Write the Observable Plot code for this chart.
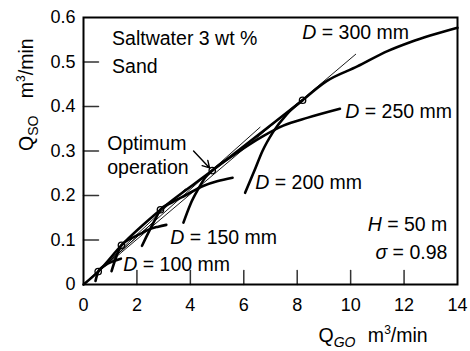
<!DOCTYPE html>
<html><head><meta charset="utf-8">
<script src="https://cdn.jsdelivr.net/npm/d3@7"></script>
<script src="https://cdn.jsdelivr.net/npm/@observablehq/plot@0.6"></script>
<style>
html,body{margin:0;padding:0;background:#fff;}
#chart{width:470px;height:351px;}
</style></head><body><div id="chart"></div>
<script>
// ---- axes ----
const xTickValues = [2, 4, 6, 8, 10, 12];
const xTickLabels = [0, 2, 4, 6, 8, 10, 12, 14];
const yTickValues = [0.1, 0.2, 0.3, 0.4, 0.5];
const yTickLabels = [0, 0.1, 0.2, 0.3, 0.4, 0.5, 0.6];

// ---- optimum operation line (through tangent points) ----
const optimumX = [0, 0.55, 1.42, 2.88, 4.82, 8.2];
const optimumY = [0, 0.029, 0.088, 0.168, 0.256, 0.414];

// ---- pipe-diameter curves ----
const d100X = [0.45, 0.55, 0.8, 1.1, 1.4];
const d100Y = [0.008, 0.029, 0.043, 0.052, 0.058];
const d150X = [1.05, 1.2, 1.42, 1.8, 2.2, 2.5, 2.8, 3.1];
const d150Y = [0.03, 0.058, 0.088, 0.104, 0.116, 0.125, 0.13, 0.134];
const d200X = [2.19, 2.35, 2.5, 2.7, 2.88, 3.3, 3.8, 4.5, 5.0, 5.58];
const d200Y = [0.087, 0.107, 0.125, 0.148, 0.168, 0.184, 0.2, 0.222, 0.232, 0.24];
const d250X = [3.74, 4.0, 4.3, 4.55, 4.82, 5.6, 6.74, 7.48, 8.4, 9.6];
const d250Y = [0.139, 0.18, 0.215, 0.24, 0.256, 0.29, 0.334, 0.357, 0.375, 0.395];
const d300X = [6.05, 6.4, 6.7, 7.1, 7.6, 8.2, 9.1, 10.25, 11.4, 12.25, 14];
const d300Y = [0.206, 0.256, 0.30, 0.343, 0.382, 0.414, 0.457, 0.49, 0.525, 0.545, 0.577];

// ---- tangent lines from origin (end points) ----
const tangentEndX = [1.3, 2.67, 3.82, 6.62, 10.2];
const tangentEndY = [0.069, 0.143, 0.215, 0.354, 0.518];

// ---- arrow ----
const arrowFromX = [4.12], arrowFromY = [0.300], arrowToX = [4.72], arrowToY = [0.262];

// ---- annotations ----
const noteText = ["Saltwater 3 wt %", "Sand", "Optimum", "operation",
  "D = 300 mm", "D = 250 mm", "D = 200 mm", "D = 150 mm", "D = 100 mm"];
const noteX = [1.07, 1.07, 0.89, 0.89, 8.19, 9.8, 6.43, 3.25, 1.49];
const noteY = [0.538, 0.475, 0.303, 0.249, 0.552, 0.374, 0.215, 0.092, 0.031];
const noteRText = ["H = 50 m", "σ = 0.98"];
const noteRX = [13.62, 13.62];
const noteRY = [0.121, 0.058];

const xLabel = "QGO m3/min";
const yLabel = "QSO m3/min";

// ---- build tables ----
const zipXY = (xs, ys) => xs.map((x, i) => ({x, y: ys[i]}));
const curves = [zipXY(d100X, d100Y), zipXY(d150X, d150Y), zipXY(d200X, d200Y), zipXY(d250X, d250Y), zipXY(d300X, d300Y)];
const optimum = zipXY(optimumX, optimumY);
const circles = optimum.slice(1);
const tangents = tangentEndX.map((x, i) => ({x1: 0, y1: 0, x2: x, y2: tangentEndY[i]}));
const arrows = arrowFromX.map((x, i) => ({x1: x, y1: arrowFromY[i], x2: arrowToX[i], y2: arrowToY[i]}));
const notes = noteText.map((t, i) => ({t, x: noteX[i], y: noteY[i]}));
const notesR = noteRText.map((t, i) => ({t, x: noteRX[i], y: noteRY[i]}));

const tickShape = {draw(context, l) { context.moveTo(0, 0); context.lineTo(0, -l); }};
const FS = 19.5;

const svg = Plot.plot({
  width: 470, height: 351,
  marginLeft: 83, marginRight: 13, marginTop: 17, marginBottom: 67,
  style: {fontFamily: "'Liberation Sans', Arial, sans-serif", fontSize: "18px", background: "#fff", color: "#000"},
  x: {domain: [0, 14]},
  y: {domain: [0, 0.6]},
  marks: [
    Plot.axisX({ticks: xTickLabels, tickFormat: d => String(d), tickSize: 0, tickPadding: 14, label: null, fontSize: 18}),
    Plot.axisY({ticks: yTickLabels, tickFormat: d => String(d), tickSize: 0, tickPadding: 8, label: null, fontSize: 18}),
    Plot.vector(xTickValues, {x: d => d, y: 0, length: 14, rotate: 0, anchor: "start", shape: tickShape, stroke: "#333", strokeWidth: 1.5}),
    Plot.vector(yTickValues, {x: 0, y: d => d, length: 15, rotate: 90, anchor: "start", shape: tickShape, stroke: "#333", strokeWidth: 1.5}),
    Plot.link(tangents, {x1: "x1", y1: "y1", x2: "x2", y2: "y2", stroke: "#000", strokeWidth: 0.9}),
    ...curves.map(c => Plot.line(c, {x: "x", y: "y", curve: "monotone-x", stroke: "#000", strokeWidth: 2.6})),
    Plot.line(optimum, {x: "x", y: "y", curve: "monotone-x", stroke: "#000", strokeWidth: 2.6}),
    Plot.dot(circles, {x: "x", y: "y", r: 3.2, stroke: "#000", strokeWidth: 1.3, fill: "none"}),
    Plot.arrow(arrows, {x1: "x1", y1: "y1", x2: "x2", y2: "y2", stroke: "#000", strokeWidth: 1.4, headLength: 9}),
    Plot.text(notes, {x: "x", y: "y", text: "t", textAnchor: "start", lineAnchor: "bottom", fontSize: FS, fill: "#000"}),
    Plot.text(notesR, {x: "x", y: "y", text: "t", textAnchor: "end", lineAnchor: "bottom", fontSize: FS, fill: "#000"}),
    Plot.text([xLabel], {frameAnchor: "bottom-right", dx: -139, dy: 57, textAnchor: "start", lineAnchor: "bottom", fontSize: FS, fill: "#000"}),
    Plot.text([yLabel], {frameAnchor: "left", dx: -51, dy: 0, rotate: -90, textAnchor: "start", lineAnchor: "bottom", fontSize: FS, fill: "#000"}),
    Plot.frame({stroke: "#000", strokeWidth: 2})
  ]
});

// rich text: italics, subscripts, superscripts
d3.select(svg).selectAll("text").each(function () {
  const t = this.textContent;
  if (t === xLabel) {
    this.innerHTML = 'Q<tspan font-size="14" font-style="italic" dy="5">GO</tspan><tspan dy="-5" dx="7"> m</tspan><tspan font-size="12" dy="-8">3</tspan><tspan dy="8">/min</tspan>';
  } else if (t === yLabel) {
    this.innerHTML = 'Q<tspan font-size="14" dy="5">SO</tspan><tspan dy="-5" dx="12"> m</tspan><tspan font-size="12" dy="-8">3</tspan><tspan dy="8">/min</tspan>';
  } else {
    const m = /^(D|H|σ) = (.*)$/.exec(t);
    if (m) this.innerHTML = '<tspan font-style="italic">' + m[1] + '</tspan> = ' + m[2];
  }
});

document.getElementById("chart").appendChild(svg);
</script>
</body></html>
